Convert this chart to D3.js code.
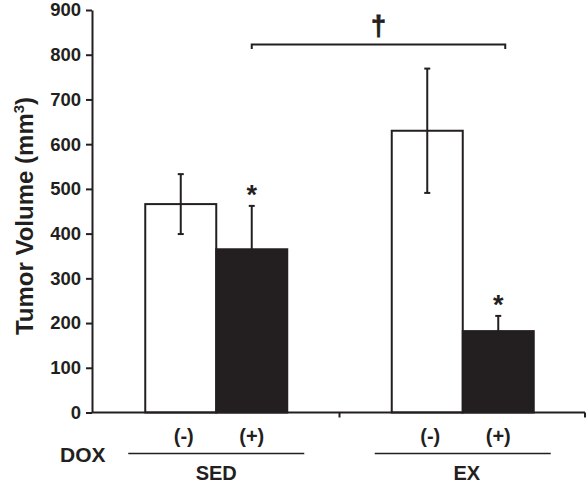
<!DOCTYPE html>
<html><head><meta charset="utf-8">
<script src="https://cdn.jsdelivr.net/npm/d3@7"></script>
<style>body{margin:0;background:#fff}svg{display:block}text{font-family:"Liberation Sans",Arial,sans-serif;font-weight:bold;fill:#231f20}</style>
</head><body>
<svg id="c" width="587" height="488"></svg>
<script>
const groups = ["SED", "EX"];
const dox = ["(-)", "(+)"];
const means = [[466, 365], [630, 182]];
const sems = [[67, 97], [139, 34]];
const starred = [[false, true], [false, true]];
const yTicks = [0, 100, 200, 300, 400, 500, 600, 700, 800, 900];
const ink = "#231f20";

const svg = d3.select("#c");
const y = d3.scaleLinear().domain([0, 900]).range([412.5, 10]);
const gx = d3.scaleBand().domain(groups).range([93, 586]).paddingInner(0).paddingOuter(0);
const ix = d3.scaleBand().domain(dox).range([0, gx.bandwidth()]).paddingInner(0).paddingOuter(0.736);
const x0 = 92;

// y axis
const ya = svg.append("g").attr("transform", `translate(${x0},0)`)
  .call(d3.axisLeft(y).tickValues(yTicks).tickSize(6).tickPadding(5).tickSizeOuter(0));
ya.select(".domain").attr("stroke", ink).attr("stroke-width", 2);
ya.selectAll(".tick line").attr("stroke", ink).attr("stroke-width", 2);
ya.selectAll(".tick text").style("font-size", "18.5px").style("font-weight", "bold").attr("fill", ink).attr("font-family", null);

// bars
groups.forEach((g, gi) => {
  const gg = svg.append("g").attr("transform", `translate(${gx(g)},0)`);
  dox.forEach((d, di) => {
    const m = means[gi][di], s = sems[gi][di];
    const bx = ix(d), bw = ix.bandwidth(), cx = bx + bw / 2;
    const filled = di === 1;
    gg.append("rect").attr("x", bx).attr("y", y(m)).attr("width", bw).attr("height", y(0) - y(m))
      .attr("fill", filled ? ink : "#fff").attr("stroke", ink).attr("stroke-width", 2);
    const lo = filled ? m : m - s;
    gg.append("line").attr("x1", cx).attr("x2", cx).attr("y1", y(m + s)).attr("y2", y(lo)).attr("stroke", ink).attr("stroke-width", 2);
    gg.append("line").attr("x1", cx - 3).attr("x2", cx + 3).attr("y1", y(m + s)).attr("y2", y(m + s)).attr("stroke", ink).attr("stroke-width", 2);
    if (!filled) gg.append("line").attr("x1", cx - 3).attr("x2", cx + 3).attr("y1", y(m - s)).attr("y2", y(m - s)).attr("stroke", ink).attr("stroke-width", 2);
    if (starred[gi][di]) gg.append("text").attr("x", cx).attr("y", y(m + s) - 2).attr("text-anchor", "middle").style("font-size", "27px").text("*");
    gg.append("text").attr("x", cx + (di ? 0 : 3)).attr("y", 443).attr("text-anchor", "middle").style("font-size", "20px").text(d);
  });
  const c = gx(g) + gx.bandwidth() / 2;
  svg.append("line").attr("x1", c - 88).attr("x2", c + 88).attr("y1", 453.5).attr("y2", 453.5).attr("stroke", ink).attr("stroke-width", 1.5);
  svg.append("text").attr("x", c + (gi ? 4 : 0)).attr("y", 480).attr("text-anchor", "middle").style("font-size", "20px").text(g);
});

// x axis
svg.append("line").attr("x1", x0).attr("x2", gx.range()[1] - 1).attr("y1", y(0)).attr("y2", y(0)).attr("stroke", ink).attr("stroke-width", 2);
[gx("EX"), gx.range()[1] - 1].forEach(t => svg.append("line").attr("x1", t).attr("x2", t).attr("y1", y(0)).attr("y2", y(0) + 5).attr("stroke", ink).attr("stroke-width", 2));

svg.append("text").attr("x", 60).attr("y", 462).style("font-size", "21px").text("DOX");

// significance bracket
const bL = gx("SED") + ix("(+)") + ix.bandwidth() / 2, bR = gx("EX") + ix("(+)") + ix.bandwidth() / 2 + 7;
svg.append("path").attr("d", `M${bL},49V44.5H${bR}V49`).attr("fill", "none").attr("stroke", ink).attr("stroke-width", 2);
svg.append("text").attr("x", (bL + bR) / 2).attr("y", 35).attr("text-anchor", "middle").style("font-size", "27px")
  .attr("stroke", ink).attr("stroke-width", 0.8).text("†");

// y label
const yl = svg.append("text").attr("transform", "translate(33,216) rotate(-90)").attr("text-anchor", "middle").style("font-size", "24px");
yl.append("tspan").text("Tumor Volume (mm");
yl.append("tspan").attr("dy", -9).style("font-size", "15px").text("3");
yl.append("tspan").attr("dy", 9).text(")");
</script>
</body></html>
